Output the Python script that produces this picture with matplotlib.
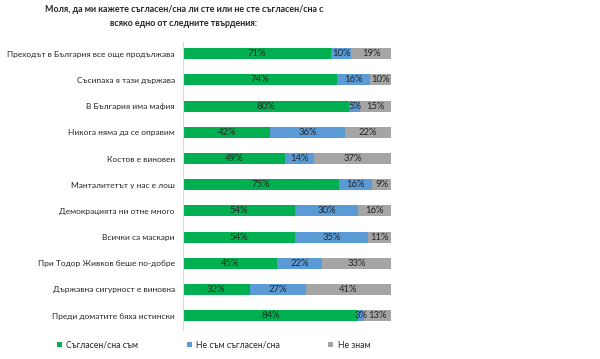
import matplotlib.pyplot as plt
import numpy as np

plt.rcParams['font.family'] = ['Lato', 'DejaVu Sans']

statements = [
    "Преходът в България все още продължава",
    "Съсипаха я тази държава",
    "В България има мафия",
    "Никога няма да се оправим",
    "Костов е виновен",
    "Манталитетът у нас е лош",
    "Демокрацията ни отне много",
    "Всички са маскари",
    "При Тодор Живков беше по-добре",
    "Държавна сигурност е виновна",
    "Преди доматите бяха истински",
]
agree = [71, 74, 80, 42, 49, 75, 54, 54, 45, 32, 84]
disagree = [10, 16, 5, 36, 14, 16, 30, 35, 22, 27, 3]
dont_know = [19, 10, 15, 22, 37, 9, 16, 11, 33, 41, 13]

series = [
    ("Съгласен/сна съм", agree, "#00B050"),
    ("Не съм съгласен/сна", disagree, "#5B9BD5"),
    ("Не знам", dont_know, "#A5A5A5"),
]

fig = plt.figure(figsize=(6, 3.59), dpi=100)
ax = fig.add_axes([183 / 600, 1 - 330 / 359, 208 / 600, 288 / 359])

y = np.arange(len(statements))
left = np.zeros(len(statements))
for name, vals, color in series:
    vals = np.array(vals)
    ax.barh(y, vals, left=left, height=0.42, color=color, label=name)
    for yi, l, v in zip(y, left, vals):
        ax.text(l + v / 2, yi, f"{v}%", ha='center', va='center',
                fontsize=6.8, color='#262626')
    left += vals

ax.set_xlim(0, 100)
ax.set_ylim(len(statements) - 0.45, -0.45)
ax.set_yticks(y)
ax.set_yticklabels(statements, fontsize=6, color='#262626')
ax.tick_params(axis='y', length=0, pad=6)
ax.set_xticks([])
for s in ['top', 'right', 'bottom']:
    ax.spines[s].set_visible(False)
ax.spines['left'].set_color('#D9D9D9')

fig.text(184 / 600, 1 - 16.5 / 359,
         "Моля, да ми кажете съгласен/сна ли сте или не сте съгласен/сна с\nвсяко едно от следните твърдения:",
         ha='center', va='center', fontsize=6.4, fontweight='bold',
         color='#262626', linespacing=1.6)

fig.legend(loc='center left', bbox_to_anchor=(57 / 600, 1 - 345 / 359), ncol=3,
           frameon=False, fontsize=6.2, handlelength=0.6, handleheight=0.6,
           borderpad=0, borderaxespad=0,
           columnspacing=5.6, handletextpad=0.5, labelcolor='#262626')

fig.savefig("out.png", dpi=100)
